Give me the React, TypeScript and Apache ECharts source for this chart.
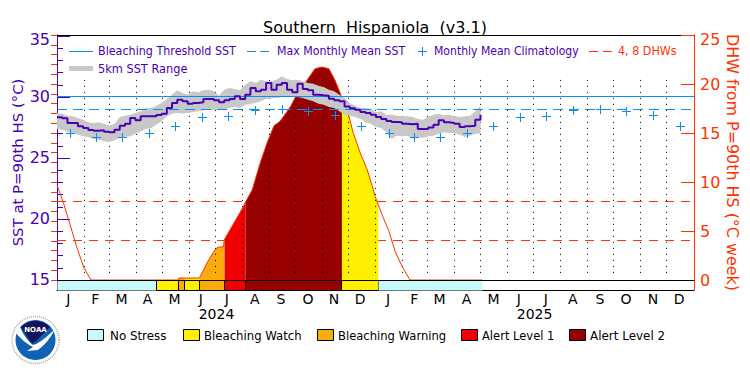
import React, { useEffect, useRef } from "react";
import * as echarts from "echarts";

const FONT = "DejaVu Sans";
const PURPLE = "#4a00b4";
const RED = "#ff3300";
const BLUE = "#0a8ff0";

const monthLetters = ["J","F","M","A","M","J","J","A","S","O","N","D","J","F","M","A","M","J","J","A","S","O","N","D"];
const monthStarts = [31,60,91,121,152,182,213,244,274,305,335,366,397,425,456,486,517,547,578,609,639,670,700];
const monthMids = [13,44,74,104,135,165,195,227,257,288,318,348,380,410,439,470,501,530,561,592,623,653,684,714];
const climatologyDays = [15,45,75,106,136,167,197,228,259,289,320,350,381,410,440,471,501,532,562,593,624,654,685,715];
const yearCenters = [183, 548];
const yearLabels = ["2024", "2025"];

const climatologyOneYear = [26.97,26.64,26.64,27.0,27.6,28.28,28.44,28.93,28.99,28.83,28.5,27.6];
const climatology = [...climatologyOneYear, ...climatologyOneYear];

const SST_STEP_DAYS = 6;
const sst = [28.33,28.25,27.87,27.87,27.6,27.46,27.3,27.24,27.27,27.16,27.1,27.32,27.65,27.81,28.28,28.09,28.42,28.42,28.42,28.52,28.63,29.1,29.51,29.78,29.64,29.45,29.51,29.56,29.84,29.84,29.73,29.56,29.73,29.84,30.05,29.84,30.19,30.74,30.46,30.6,31.15,30.6,31.01,31.15,30.6,30.38,31.09,30.66,30.55,30.19,30.14,30.11,29.86,29.73,29.64,29.23,29.07,28.96,28.77,28.69,28.55,28.36,28.2,28.03,27.95,27.92,27.81,27.76,27.81,27.38,27.38,27.49,27.73,28.09,27.92,27.87,27.81,27.54,27.6,27.65,28.14,28.55];
const sstHigh = [28.69,28.63,28.47,28.42,28.28,28.14,27.92,27.87,27.92,27.81,27.65,27.81,28.36,28.47,28.55,28.69,28.83,29.1,29.1,29.29,29.51,29.84,30.19,30.55,30.33,30.19,30.46,30.38,30.55,30.6,30.46,30.11,30.6,30.74,30.66,30.55,31.01,31.28,31.15,31.42,31.28,31.28,31.42,31.69,31.48,31.37,31.42,31.28,31.15,31.09,30.93,30.82,30.6,30.46,30.19,29.92,29.51,29.29,29.1,29.1,29.02,28.74,28.83,28.55,28.55,28.47,28.42,28.42,28.36,28.2,28.14,28.36,28.55,28.63,28.5,28.55,28.42,28.36,28.42,28.47,28.83,29.29];
const sstLow = [27.38,27.32,27.16,27.05,26.91,26.78,26.72,26.56,26.5,26.37,26.28,26.45,26.64,26.72,26.78,26.99,27.19,27.38,27.46,27.73,28.01,28.42,28.63,28.69,28.63,28.69,28.74,28.83,28.91,28.96,28.91,29.02,28.96,29.1,29.18,29.1,29.37,29.45,29.51,29.64,29.84,29.89,29.92,30,30,30.05,30,29.92,29.78,29.64,29.45,29.37,29.18,29.1,28.83,28.55,28.47,28.36,28.2,27.92,27.81,27.54,27.46,27.1,26.56,26.83,26.78,26.83,26.56,26.72,26.64,26.78,26.83,26.99,27.1,27.05,27.05,26.91,26.72,26.83,26.99,26.99];

const dhwDays = [0,8,15,23,31,39,139,140,163,164,172,180,184,191,192,203,214,216,224,233,241,249,256,268,274,287,296,304,312,319,325,329,335,340,348,356,363,365,373,381,388,396,405,488];
const dhw = [9.72,7.68,5.64,3.26,1.22,0,0,0.2,0.2,0.3,1.73,2.92,3.33,3.4,4.11,5.81,7.5,7.9,9.2,11.9,13.98,15.74,16.2,17.7,18.74,20.4,21.56,21.74,21.56,20.4,19.08,18.06,16.7,14.99,12.96,11.25,9.2,8.53,6.66,4.96,2.92,1.39,0,0];

const stressNames = ["No Stress", "Bleaching Watch", "Bleaching Warning", "Alert Level 1", "Alert Level 2"];
const stressColors = ["#c8fafa", "#fff000", "#fbab0d", "#f00000", "#960000"];
const stressStart = [0, 114.5, 139.3, 146.6, 163.8, 192.4, 216.5, 327, 368.7];
const stressEnd = [114.5, 139.3, 146.6, 163.8, 192.4, 216.5, 327, 368.7, 488];
const stressLevel = [0, 1, 2, 1, 2, 3, 4, 1, 0];

const sstReference = [29, 30];
const dhwReference = [8, 4];

const leftMajor = [15, 20, 25, 30, 35];
const leftMinor = [15,16,17,18,19,20,21,22,23,24,25,26,27,28,29,30,31,32,33,34,35];
const rightMajor = [0, 5, 10, 15, 20, 25];
const rightMinor = [0,1,2,3,4,5,6,7,8,9,10,11,12,13,14,15,16,17,18,19,20,21,22,23,24,25];

echarts.graphic.registerShape("noaaNavy", echarts.graphic.extendPath("M21,327 A20,20 0 0 1 50,327 L41,336 Q37,341 32,344 Q27,336 21,327Z", {}));
echarts.graphic.registerShape("noaaBird", echarts.graphic.extendPath("M15,332 Q24,343 33,347 L27,351 L38,350 Q48,343 55,329 Q47,337 41,341 Q37,344 33,345 Q25,339 20,327Z", {}));

function dhwAt(day: number) {
  for (let i = 1; i < dhwDays.length; i++) {
    if (day <= dhwDays[i]) {
      const t = (day - dhwDays[i - 1]) / (dhwDays[i] - dhwDays[i - 1]);
      return dhw[i - 1] + t * (dhw[i] - dhw[i - 1]);
    }
  }
  return 0;
}

const crisp = (v: number) => Math.floor(v) + 0.5;

const txt = (text: string, x: number, y: number, fontSize: number, fill: string, scaleX = 1) => ({
  type: "text",
  x, y, scaleX,
  z: 20,
  silent: true,
  style: { text, fontSize, fontFamily: FONT, fill, verticalAlign: "middle", align: "left" },
});
const seg = (x1: number, x2: number, y: number, stroke: string, lineWidth: number, lineDash?: number[]) => ({
  type: "line",
  z: 20,
  silent: true,
  shape: { x1, y1: y, x2, y2: y },
  style: { stroke, lineWidth, lineDash },
});
const box = (x: number, color: string) => ({
  type: "rect",
  z: 20,
  silent: true,
  shape: { x: x + 0.5, y: 329.5, width: 16, height: 11 },
  style: { fill: color, stroke: "#000", lineWidth: 1 },
});

const legendX = [87, 183, 317, 461, 569];
const legendTextX = [110, 204, 338, 482, 590];
const legendScale = [0.99, 0.975, 0.965, 0.96, 0.995];

function hLine(api: any, y: number, stroke: string, lineDash: number[] | null) {
  const a = api.coord([0, y]);
  const b = api.coord([731, y]);
  const py = crisp(a[1]);
  return { type: "line", shape: { x1: a[0], y1: py, x2: b[0], y2: py }, style: { stroke, lineWidth: 1, lineDash } };
}

function buildOption() {
  const xs = sst.map((_, i) => i * SST_STEP_DAYS);
  return {
    animation: false,
    backgroundColor: "#fff",
    title: {
      text: "Southern  Hispaniola  (v3.1)",
      left: 370, top: 14, textAlign: "center",
      textStyle: { fontFamily: FONT, fontSize: 16, fontWeight: "normal", color: "#000" },
    },
    grid: { left: 57, right: 56, top: 35, bottom: 85, containLabel: false, outerBoundsMode: "none" },
    xAxis: [
      {
        type: "value", min: 0, max: 731, position: "bottom",
        axisLine: { show: true, lineStyle: { color: "#000", width: 1 }, onZero: false },
        axisTick: { show: false }, splitLine: { show: false },
        axisLabel: {
          customValues: monthMids,
          formatter: (v: number) => monthLetters[monthMids.indexOf(v)],
          fontFamily: FONT, fontSize: 14, color: "#000", margin: 2, hideOverlap: false,
        },
      },
      {
        type: "value", min: 0, max: 731, position: "bottom", gridIndex: 0,
        axisLine: { show: false }, axisTick: { show: false }, splitLine: { show: false },
        axisLabel: {
          customValues: yearCenters,
          formatter: (v: number) => yearLabels[yearCenters.indexOf(v)],
          fontFamily: FONT, fontSize: 14, color: "#000", margin: 17,
        },
      },
      {
        type: "value", min: 0, max: 731, position: "top",
        axisLine: { show: true, lineStyle: { color: "#000", width: 1 }, onZero: false },
        axisTick: { show: false }, axisLabel: { show: false }, splitLine: { show: false },
      },
    ],
    yAxis: [
      {
        type: "value", min: 14.18, max: 35.08, position: "left",
        name: "SST at P=90th HS (°C)", nameLocation: "middle", nameGap: 32, nameRotate: 90, nameMoveOverlap: false,
        nameTextStyle: { color: PURPLE, fontFamily: FONT, fontSize: 14.9 },
        axisLine: { show: true, lineStyle: { color: PURPLE, width: 1 }, onZero: false },
        axisTick: { show: true, inside: true, length: 13, customValues: leftMajor, lineStyle: { color: PURPLE } },
        axisLabel: { customValues: [15, 20, 25, 30, 34.7], formatter: (v: number) => String(Math.round(v / 5) * 5), color: PURPLE, fontFamily: FONT, fontSize: 16, margin: 7 },
        splitLine: { show: false },
      },
      {
        type: "value", min: -1.02, max: 25, position: "right",
        name: "DHW from P=90th HS (°C week)", nameLocation: "middle", nameGap: 30, nameRotate: -90, nameMoveOverlap: false,
        nameTextStyle: { color: RED, fontFamily: FONT, fontSize: 15.9 },
        axisLine: { show: true, lineStyle: { color: RED, width: 1 }, onZero: false },
        axisTick: { show: true, inside: true, length: 13, customValues: rightMajor, lineStyle: { color: RED } },
        axisLabel: { customValues: [0, 5, 10, 15, 20, 24.55], formatter: (v: number) => String(Math.round(v / 5) * 5), color: RED, fontFamily: FONT, fontSize: 16, margin: 6 },
        splitLine: { show: false },
      },
      {
        type: "value", min: 14.18, max: 35.08, position: "left",
        axisLine: { show: false }, axisLabel: { show: false }, splitLine: { show: false },
        axisTick: { show: true, inside: true, length: 6, customValues: leftMinor, lineStyle: { color: PURPLE } },
      },
      {
        type: "value", min: -1.02, max: 25, position: "right",
        axisLine: { show: false }, axisLabel: { show: false }, splitLine: { show: false },
        axisTick: { show: true, inside: true, length: 6, customValues: rightMinor, lineStyle: { color: RED } },
      },
    ],
    series: [
      {
        type: "custom", name: "4, 8 DHWs", yAxisIndex: 1, z: 1, silent: true, clip: false,
        data: dhwReference.map((v) => [0, v]),
        renderItem: (_p: any, api: any) => hLine(api, api.value(1), RED, [9, 7]),
      },
      {
        type: "custom", name: "DHW stress fill", yAxisIndex: 1, z: 2, silent: true,
        data: stressStart.map((s, i) => [s, stressEnd[i], stressLevel[i]]),
        encode: { x: [0, 1] },
        renderItem: (_p: any, api: any) => {
          const a = api.value(0), b = api.value(1), level = api.value(2);
          if (level === 0) return null;
          const pts: number[][] = [api.coord([a, 0]), api.coord([a, dhwAt(a)])];
          dhwDays.forEach((d, i) => { if (d > a && d < b) pts.push(api.coord([d, dhw[i]])); });
          pts.push(api.coord([b, dhwAt(b)]), api.coord([b, 0]));
          return { type: "polygon", shape: { points: pts }, style: { fill: stressColors[level], stroke: null } };
        },
      },
      {
        type: "custom", name: "Months", z: 3, silent: true,
        data: monthStarts.map((m) => [m]),
        renderItem: (_p: any, api: any) => {
          const top = api.coord([api.value(0), 31.4]);
          const bot = api.coord([api.value(0), 15.2]);
          const px = crisp(top[0]);
          return { type: "line", shape: { x1: px, y1: top[1], x2: px, y2: bot[1] }, style: { stroke: "#000", lineWidth: 1, lineDash: [1, 5] } };
        },
      },
      {
        type: "line", name: "DHW", yAxisIndex: 1, z: 3.5, silent: true,
        data: dhwDays.map((d, i) => [d, dhw[i]]),
        showSymbol: false, lineStyle: { color: RED, width: 1 },
      },
      {
        type: "custom", name: "5km SST Range", z: 4, silent: true,
        data: [[0, 486]],
        encode: { x: [0, 1] },
        renderItem: (_p: any, api: any) => {
          const top = xs.map((x, i) => api.coord([x, sstHigh[i]]));
          const bot = xs.map((x, i) => api.coord([x, sstLow[i]])).reverse();
          return { type: "polygon", shape: { points: [...top, ...bot] }, style: { fill: "#c8c8c8", stroke: null } };
        },
      },
      {
        type: "custom", name: "SST thresholds", z: 6, silent: true,
        data: sstReference.map((v) => [0, v]),
        renderItem: (_p: any, api: any) => hLine(api, api.value(1), BLUE, api.value(1) === 30 ? null : [10, 6]),
      },
      {
        type: "line", name: "SST", z: 7, silent: true, step: "end",
        data: xs.map((x, i) => [x, sst[i]]),
        showSymbol: false, lineStyle: { color: PURPLE, width: 2 },
      },
      {
        type: "custom", name: "Monthly Mean Climatology", z: 8, silent: true,
        data: climatologyDays.map((d, i) => [d, climatology[i]]),
        renderItem: (_p: any, api: any) => {
          const c = api.coord([api.value(0), api.value(1)]);
          const x = crisp(c[0]), y = crisp(c[1]);
          const style = { stroke: BLUE, lineWidth: 1 };
          return {
            type: "group",
            children: [
              { type: "line", shape: { x1: x - 4.5, y1: y, x2: x + 4.5, y2: y }, style },
              { type: "line", shape: { x1: x, y1: y - 4.5, x2: x, y2: y + 4.5 }, style },
            ],
          };
        },
      },
      {
        type: "custom", name: "Stress status", yAxisIndex: 1, z: 9, silent: true,
        data: stressStart.map((s, i) => [s, stressEnd[i], stressLevel[i]]),
        encode: { x: [0, 1] },
        renderItem: (_p: any, api: any) => {
          const p0 = api.coord([api.value(0), 0]);
          const p1 = api.coord([api.value(1), -1.02]);
          const level = api.value(2);
          const x0 = crisp(p0[0]), x1 = crisp(p1[0]), y0 = crisp(p0[1]), y1 = crisp(p1[1]);
          return {
            type: "rect",
            shape: { x: x0, y: y0, width: x1 - x0, height: y1 - y0 },
            style: { fill: stressColors[level], stroke: level === 0 ? null : "#000", lineWidth: 1 },
          };
        },
      },
      {
        type: "custom", name: "Status top", yAxisIndex: 1, z: 10, silent: true,
        data: [[0, 0]],
        renderItem: (_p: any, api: any) => hLine(api, api.value(1), "#000", null),
      },
    ],
    graphic: [
      seg(69, 93, 51.5, BLUE, 1),
      txt("Bleaching Threshold SST", 98, 51, 12, PURPLE, 0.93),
      seg(247, 269, 51.5, BLUE, 1, [9, 4]),
      txt("Max Monthly Mean SST", 277, 51, 12, PURPLE, 0.92),
      seg(418, 427, 51.5, BLUE, 1),
      { type: "line", z: 20, silent: true, shape: { x1: 422.5, y1: 47, x2: 422.5, y2: 56 }, style: { stroke: BLUE, lineWidth: 1 } },
      txt("Monthly Mean Climatology", 434, 51, 12, PURPLE, 0.905),
      seg(589, 612, 51.5, RED, 1, [9, 5]),
      txt("4, 8 DHWs", 618, 51, 12, RED, 0.93),
      seg(69, 93, 68.5, "#c8c8c8", 5),
      txt("5km SST Range", 98, 69, 12, PURPLE, 0.947),
      ...stressNames.flatMap((n, i) => [box(legendX[i], stressColors[i]), txt(n, legendTextX[i], 336, 12, "#000", legendScale[i])]),
      { type: "circle", z: 20, silent: true, shape: { cx: 35.5, cy: 340, r: 23.5 }, style: { fill: "#fff", stroke: "#aaa", lineWidth: 1.5, lineDash: [1, 1] } },
      { type: "circle", z: 20, silent: true, shape: { cx: 35.5, cy: 340, r: 20 }, style: { fill: "#0f62b4" } },
      { type: "noaaNavy", z: 21, silent: true, style: { fill: "#14145a" } },
      { type: "noaaBird", z: 21, silent: true, style: { fill: "#fff" } },
      { type: "text", z: 22, silent: true, x: 35.5, y: 329.5, style: { text: "NOAA", fontSize: 7, fontWeight: "bold", fontFamily: FONT, fill: "#fff", align: "center", verticalAlign: "middle" } },
    ],
  };
}

export default function App() {
  const ref = useRef<HTMLDivElement>(null);
  useEffect(() => {
    const chart = echarts.init(ref.current!, undefined, { renderer: "svg" });
    chart.setOption(buildOption() as any);
    return () => chart.dispose();
  }, []);
  return (
    <div style={{ position: "fixed", left: 0, top: 0, width: 750, height: 375, background: "#fff" }}>
      <div ref={ref} style={{ width: 750, height: 375 }} />
    </div>
  );
}
